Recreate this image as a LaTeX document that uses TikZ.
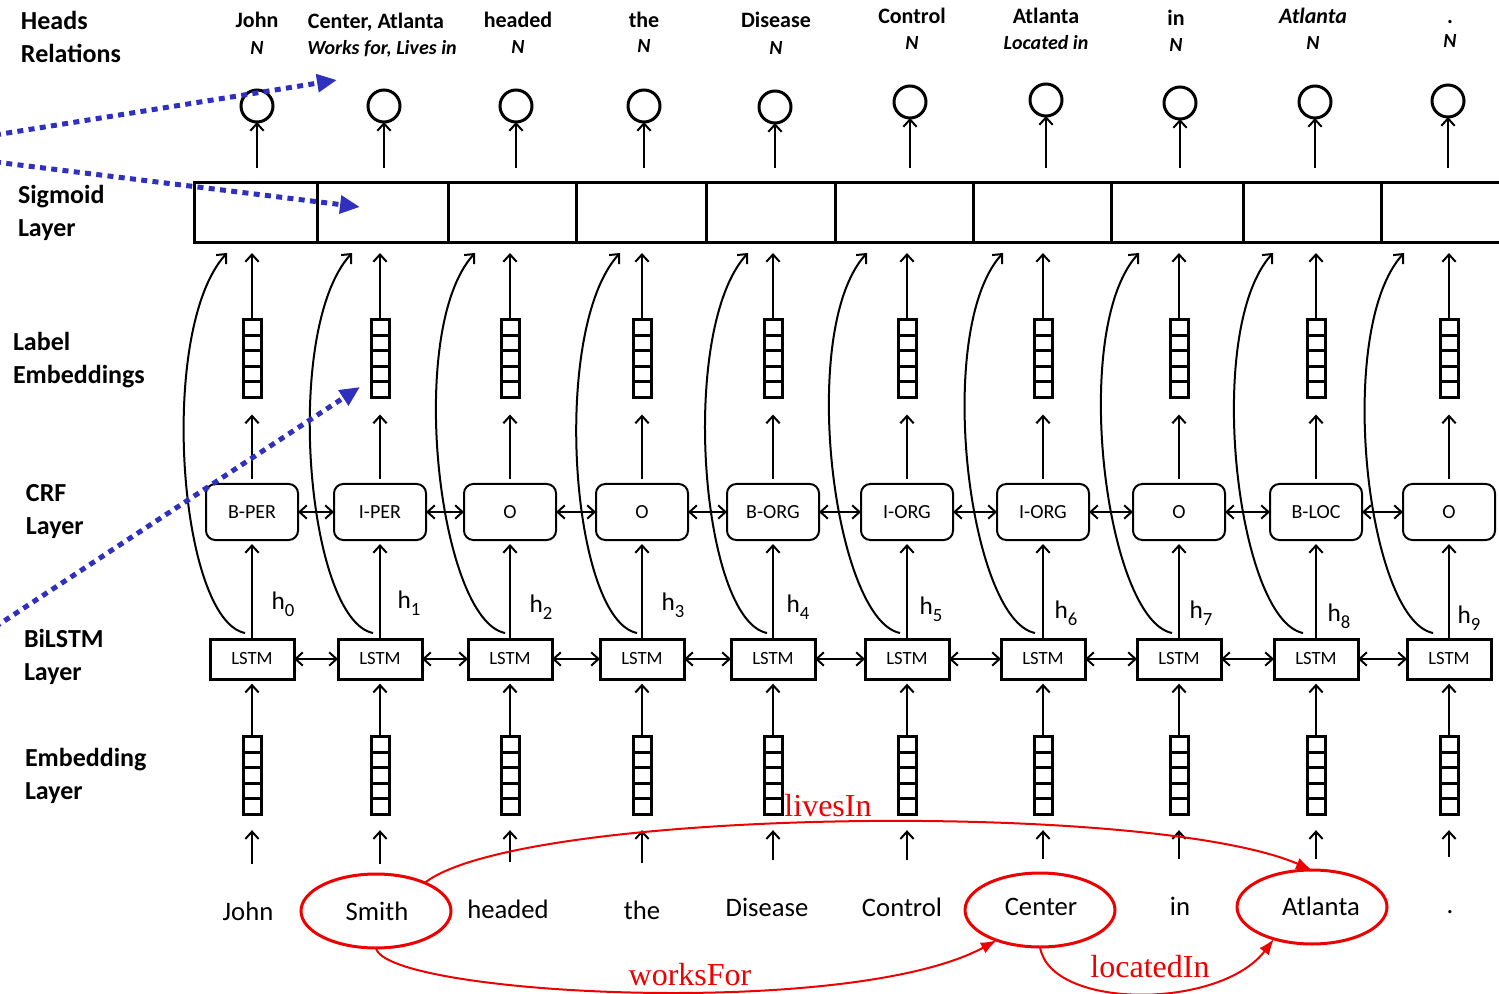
\documentclass[tikz,border=0pt]{standalone}
\usepackage{fontspec}
\setmainfont{Carlito}
\newfontfamily\tms{Liberation Serif}
\usetikzlibrary{arrows.meta,calc,shapes.geometric}
\definecolor{dotblue}{RGB}{48,48,190}
\definecolor{relred}{RGB}{236,0,0}
\newcommand{\hsub}[1]{h\raisebox{-0.28em}{\fontsize{14pt}{16pt}\selectfont #1}}
\begin{document}
\begin{tikzpicture}[x=0.75pt,y=-0.75pt,
  every node/.style={inner sep=0pt,outer sep=0pt},
  arr/.style={line width=1.5pt,-{Straight Barb[length=5.5pt,width=10pt]}},
  darr/.style={line width=1.5pt,{Straight Barb[length=5.5pt,width=10pt]}-{Straight Barb[length=5.5pt,width=10pt]}},
  lstmbox/.style={draw,line width=2.25pt,minimum width=63pt,minimum height=30pt,font=\fontsize{14pt}{16pt}\selectfont},
  crfbox/.style={draw,line width=1.5pt,rounded corners=7pt,minimum width=69pt,minimum height=42pt,font=\fontsize{15pt}{17pt}\selectfont},
  vecbox/.style={draw,line width=2.25pt,minimum width=13.5pt,minimum height=58pt,
    path picture={\foreach \k in {1,2,3,4}{\draw[line width=2.25pt]
      ($(path picture bounding box.south west)!\k/5!(path picture bounding box.north west)$) --
      ($(path picture bounding box.south east)!\k/5!(path picture bounding box.north east)$);}}},
  outcircle/.style={draw,circle,line width=2.25pt,minimum size=24pt},
  sigcell/.style={draw,line width=2.25pt,minimum height=45pt},
  layerlbl/.style={font=\fontsize{19.5pt}{24.75pt}\selectfont\bfseries,align=left,anchor=west},
  headw/.style={font=\fontsize{16.5pt}{18pt}\selectfont\bfseries,anchor=base},
  relw/.style={font=\fontsize{15pt}{18pt}\selectfont\bfseries\itshape,anchor=base},
  word/.style={font=\fontsize{20pt}{24pt}\selectfont,anchor=base,text height=11pt,text depth=3pt},
  hlbl/.style={font=\fontsize{19pt}{22pt}\selectfont},
  redell/.style={draw=relred,line width=2.25pt,ellipse,minimum width=112.5pt,minimum height=55.5pt},
  rel/.style={draw=relred,line width=1.5pt,-{Latex[length=12pt,width=9pt]}},
  rellbl/.style={text=relred,font=\tms\fontsize{24pt}{28pt}\selectfont},
  bluearr/.style={draw=dotblue,line width=3.75pt,dash pattern=on 4.5pt off 4pt,-{Triangle[length=15pt,width=13pt]}}
]
\useasboundingbox (0,0) rectangle (1499,994);
\clip (0,0) rectangle (1499,994);

% layer labels
\node[layerlbl] (lyHeads) at (21,37) {Heads\\Relations};
\node[layerlbl] (lySig) at (18,213) {Sigmoid\\Layer};
\node[layerlbl] (lyLab) at (13,360) {Label\\Embeddings};
\node[layerlbl] (lyCrf) at (26,512) {CRF\\Layer};
\node[layerlbl] (lyBi) at (24,657) {BiLSTM\\Layer};
\node[layerlbl] (lyEmb) at (25,776) {Embedding\\Layer};

% heads and relations
\node[headw] (hd0) at (257,28) {John};
\node[relw] (rl0) at (257,55) {N};
\node[headw] (hd1) at (376,29) {Center, Atlanta};
\node[relw] (rl1) at (382,55) {Works for, Lives in};
\node[headw] (hd2) at (518,28) {headed};
\node[relw] (rl2) at (518,54) {N};
\node[headw] (hd3) at (644,28) {the};
\node[relw] (rl3) at (644,53) {N};
\node[headw] (hd4) at (776,28) {Disease};
\node[relw] (rl4) at (776,55) {N};
\node[headw] (hd5) at (912,24) {Control};
\node[relw] (rl5) at (912,50) {N};
\node[headw] (hd6) at (1046,24) {Atlanta};
\node[relw] (rl6) at (1046,50) {Located in};
\node[headw] (hd7) at (1176,26) {in};
\node[relw] (rl7) at (1176,52) {N};
\node[headw] (hd8) at (1313,24) {\itshape Atlanta};
\node[relw] (rl8) at (1313,50) {N};
\node[headw] (hd9) at (1450,24) {.};
\node[relw] (rl9) at (1450,48) {N};

% sigmoid layer cells
\foreach \i/\l/\r in {0/194/317,1/317/448,2/448/576,3/576/706,4/706/835,5/835/973,6/973/1111,7/1111/1243,8/1243/1381,9/1381/1512}
  \node[sigcell,minimum width={(\r-\l)*0.75pt}] (sig\i) at ({(\l+\r)/2},213) {};

% output circles
\foreach \i/\cx/\cy in {0/257/106,1/384/106,2/516/106,3/644/106,4/775/107,5/910/102,6/1046/100,7/1180/103,8/1315/102,9/1448/101}{
  \node[outcircle] (circ\i) at (\cx,\cy) {};
  \draw[arr,shorten <=11pt] (sig\i.north -| circ\i.south) -- (circ\i.south);
}

% columns
\foreach \i/\cx/\lab in {0/252/B-PER,1/380/I-PER,2/510/O,3/642/O,4/773/B-ORG,5/907/I-ORG,6/1043/I-ORG,7/1179/O,8/1316/B-LOC,9/1449/O}{
  \node[vecbox] (le\i) at (\cx,358.5) {};
  \node[crfbox] (crf\i) at (\cx,512) {\lab};
  \node[lstmbox] (lstm\i) at (\cx,659) {LSTM};
  \node[vecbox] (emb\i) at (\cx,775.5) {};
}

\foreach \i in {0,...,9}{
  \draw[arr,shorten >=7.5pt] (le\i.north) -- (le\i.north |- sig\i.south);
  \draw[arr,shorten <=4pt,shorten >=13pt] (crf\i.north) -- (le\i.south);
  \draw[arr,shorten >=3pt] (lstm\i.north) -- (crf\i.south);
  \draw[arr,shorten >=3.5pt] (emb\i.north) -- (lstm\i.south);
}

\foreach \i/\j in {0/1,1/2,2/3,3/4,4/5,5/6,6/7,7/8,8/9}{
  \draw[darr] (crf\i.east) -- (crf\j.west);
  \draw[darr] (lstm\i.east) -- (lstm\j.west);
}

% skip curves from BiLSTM to sigmoid layer
\foreach \i/\s/\e in {0/-7/-25,1/-7/-28,2/-5/-35,3/-5/-22,4/-6/-25,5/-7/-40,6/-8/-40,7/-7/-40,8/-13/-43,9/-16/-45}
  \draw[arr] ($(lstm\i.north)+(\s,-6)$) .. controls +(-66,-13) and +(-70,77) .. ($(lstm\i.north |- sig\i.south)+(\e,10)$);

% hidden-state labels
\foreach \i/\hx/\hy in {0/283/604,1/409/603,2/541/607,3/673/605,4/798/607,5/931/609,6/1066/613,7/1201/613,8/1339/616,9/1469/618}
  \node[hlbl] (h\i) at (\hx,\hy) {\hsub{\i}};

% words
\node[word] (w0) at (248,920) {John};
\node[word] (w1) at (377,920) {Smith};
\node[word] (w2) at (508,918) {headed};
\node[word] (w3) at (642,919) {the};
\node[word] (w4) at (767,916) {Disease};
\node[word] (w5) at (902,916) {Control};
\node[word] (w6) at (1041,915) {Center};
\node[word] (w7) at (1180,915) {in};
\node[word] (w8) at (1321,915) {Atlanta};
\node[word] (w9) at (1450,913) {.};

\foreach \i in {0,...,9}
  \draw[arr,shorten <=31pt,shorten >=12pt] (emb\i.south |- w\i.north) -- (emb\i.south);

% entity ellipses and relations
\node[redell] (ell1) at (376,911) {};
\node[redell] (ell6) at (1040,910) {};
\node[redell] (ell8) at (1312,907) {};

\draw[rel] (ell1.30) .. controls (520,808) and (1150,800) .. (ell8.north);
\draw[rel] (ell1.south) .. controls (385,995) and (850,1020) .. (ell6.215);
\draw[rel] (ell6.south) .. controls (1050,1010) and (1220,1010) .. (ell8.220);

\node[rellbl] (lbLives) at (828,806) {livesIn};
\node[rellbl] (lbWorks) at (690,975) {worksFor};
\node[rellbl] (lbLoc) at (1150,967) {locatedIn};

% blue dotted pointers
\coordinate (b1s) at (-5,135);
\coordinate (b1e) at (337,80);
\coordinate (b2s) at (-5,162);
\coordinate (b2e) at (360,207);
\coordinate (b3s) at (-5,627);
\coordinate (b3e) at (360,387);
\draw[bluearr] (b1s) -- (b1e);
\draw[bluearr] (b2s) -- (b2e);
\draw[bluearr] (b3s) -- (b3e);
\end{tikzpicture}
\end{document}
